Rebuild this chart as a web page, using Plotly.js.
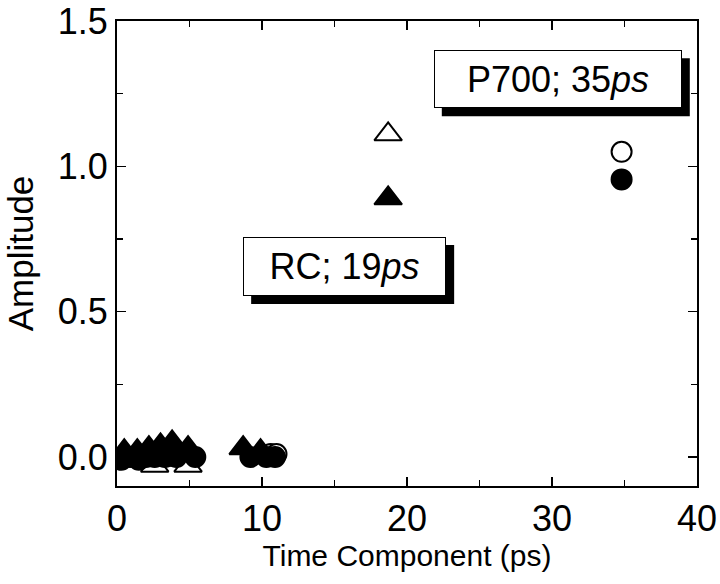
<!DOCTYPE html>
<html>
<head>
<meta charset="utf-8">
<script src="https://cdn.plot.ly/plotly-3.0.1.min.js"></script>
<style>
  body { margin: 0; background: #fff; }
  #chart { width: 720px; height: 584px; }
</style>
</head>
<body>
<div id="chart"></div>
<script>
/* values */
const openTriX = [2.6, 4.0, 4.9, 18.7];
const openTriY = [-0.03, -0.01, -0.03, 1.11];
const fillTriX = [0.5, 1.4, 2.2, 3.0, 3.8, 4.9, 8.7, 9.9, 18.7];
const fillTriY = [0.02, 0.02, 0.03, 0.04, 0.05, 0.03, 0.03, 0.02, 0.89];
const openCircX = [10.6, 11.0, 34.8];
const openCircY = [0.01, 0.01, 1.05];
const fillCircX = [0.3, 0.9, 1.5, 2.0, 2.6, 3.3, 4.1, 5.4, 9.2, 10.3, 10.9, 34.8];
const fillCircY = [-0.01, 0.0, -0.01, 0.0, 0.0, 0.0, 0.0, 0.0, 0.0, 0.0, 0.0, 0.955];

const labels = ['P700; 35<i>ps</i>', 'RC; 19<i>ps</i>'];
const labelX = [30.4, 15.7];
const labelY = [1.30, 0.655];
const boxW = [248, 203];   // px, box size
const boxH = [58, 59];

const FONT = 'Liberation Sans, Arial, sans-serif';

function series(x, y, symbol, fill, size) {
    return {
        x: x, y: y,
        type: 'scatter',
        mode: 'markers',
        showlegend: false,
        marker: {symbol: symbol, size: size, color: fill, line: {color: '#000', width: 2}}
    };
}

const traces = [
    series(openTriX, openTriY, 'triangle-up', '#fff', 24),
    series(openCircX, openCircY, 'circle', '#fff', 20),
    series(fillTriX, fillTriY, 'triangle-up', '#000', 24),
    series(fillCircX, fillCircY, 'circle', '#000', 20)
];

/* label boxes, with a black drop shadow shape behind each */
const annotations = [];
const shapes = [];
labels.forEach(function(t, i) {
    annotations.push({
        x: labelX[i], y: labelY[i], xref: 'x', yref: 'y',
        text: t, showarrow: false,
        font: {family: FONT, size: 36, color: '#000'},
        width: boxW[i] - 4, height: boxH[i] - 4, borderpad: 1,
        bordercolor: '#000', borderwidth: 1, bgcolor: '#fff'
    });
    shapes.push({
        type: 'rect', xref: 'x', yref: 'y',
        xsizemode: 'pixel', ysizemode: 'pixel',
        xanchor: labelX[i], yanchor: labelY[i],
        x0: -boxW[i] / 2 + 8, x1: boxW[i] / 2 + 8,
        y0: -boxH[i] / 2 - 8, y1: boxH[i] / 2 - 8,
        fillcolor: '#000', line: {width: 0}
    });
});

const axisBase = {
    showline: true, linecolor: '#000', linewidth: 2,
    mirror: 'ticks', ticks: 'inside', ticklen: 9, tickwidth: 1.5, tickcolor: '#000',
    showgrid: false, zeroline: false,
    tickfont: {family: FONT, size: 36, color: '#000'}
};

const layout = {
    width: 720, height: 584,
    margin: {l: 117, r: 23, t: 21, b: 98},
    paper_bgcolor: '#fff', plot_bgcolor: '#fff',
    font: {family: FONT, color: '#000'},
    xaxis: Object.assign({}, axisBase, {
        range: [0, 40], dtick: 10, tick0: 0,
        minor: {dtick: 5, ticks: 'inside', ticklen: 6, tickcolor: '#000', tickwidth: 1.5},
        title: {text: 'Time Component (ps)', font: {family: FONT, size: 30, color: '#000'}, standoff: 4}
    }),
    yaxis: Object.assign({}, axisBase, {
        range: [-0.1, 1.5], dtick: 0.5, tick0: 0, tickformat: '.1f',
        minor: {dtick: 0.25, ticks: 'inside', ticklen: 6, tickcolor: '#000', tickwidth: 1.5},
        title: {text: 'Amplitude', font: {family: FONT, size: 35, color: '#000'}, standoff: 14}
    }),
    shapes: shapes,
    annotations: annotations
};

Plotly.newPlot('chart', traces, layout, {staticPlot: true});
</script>
</body>
</html>
